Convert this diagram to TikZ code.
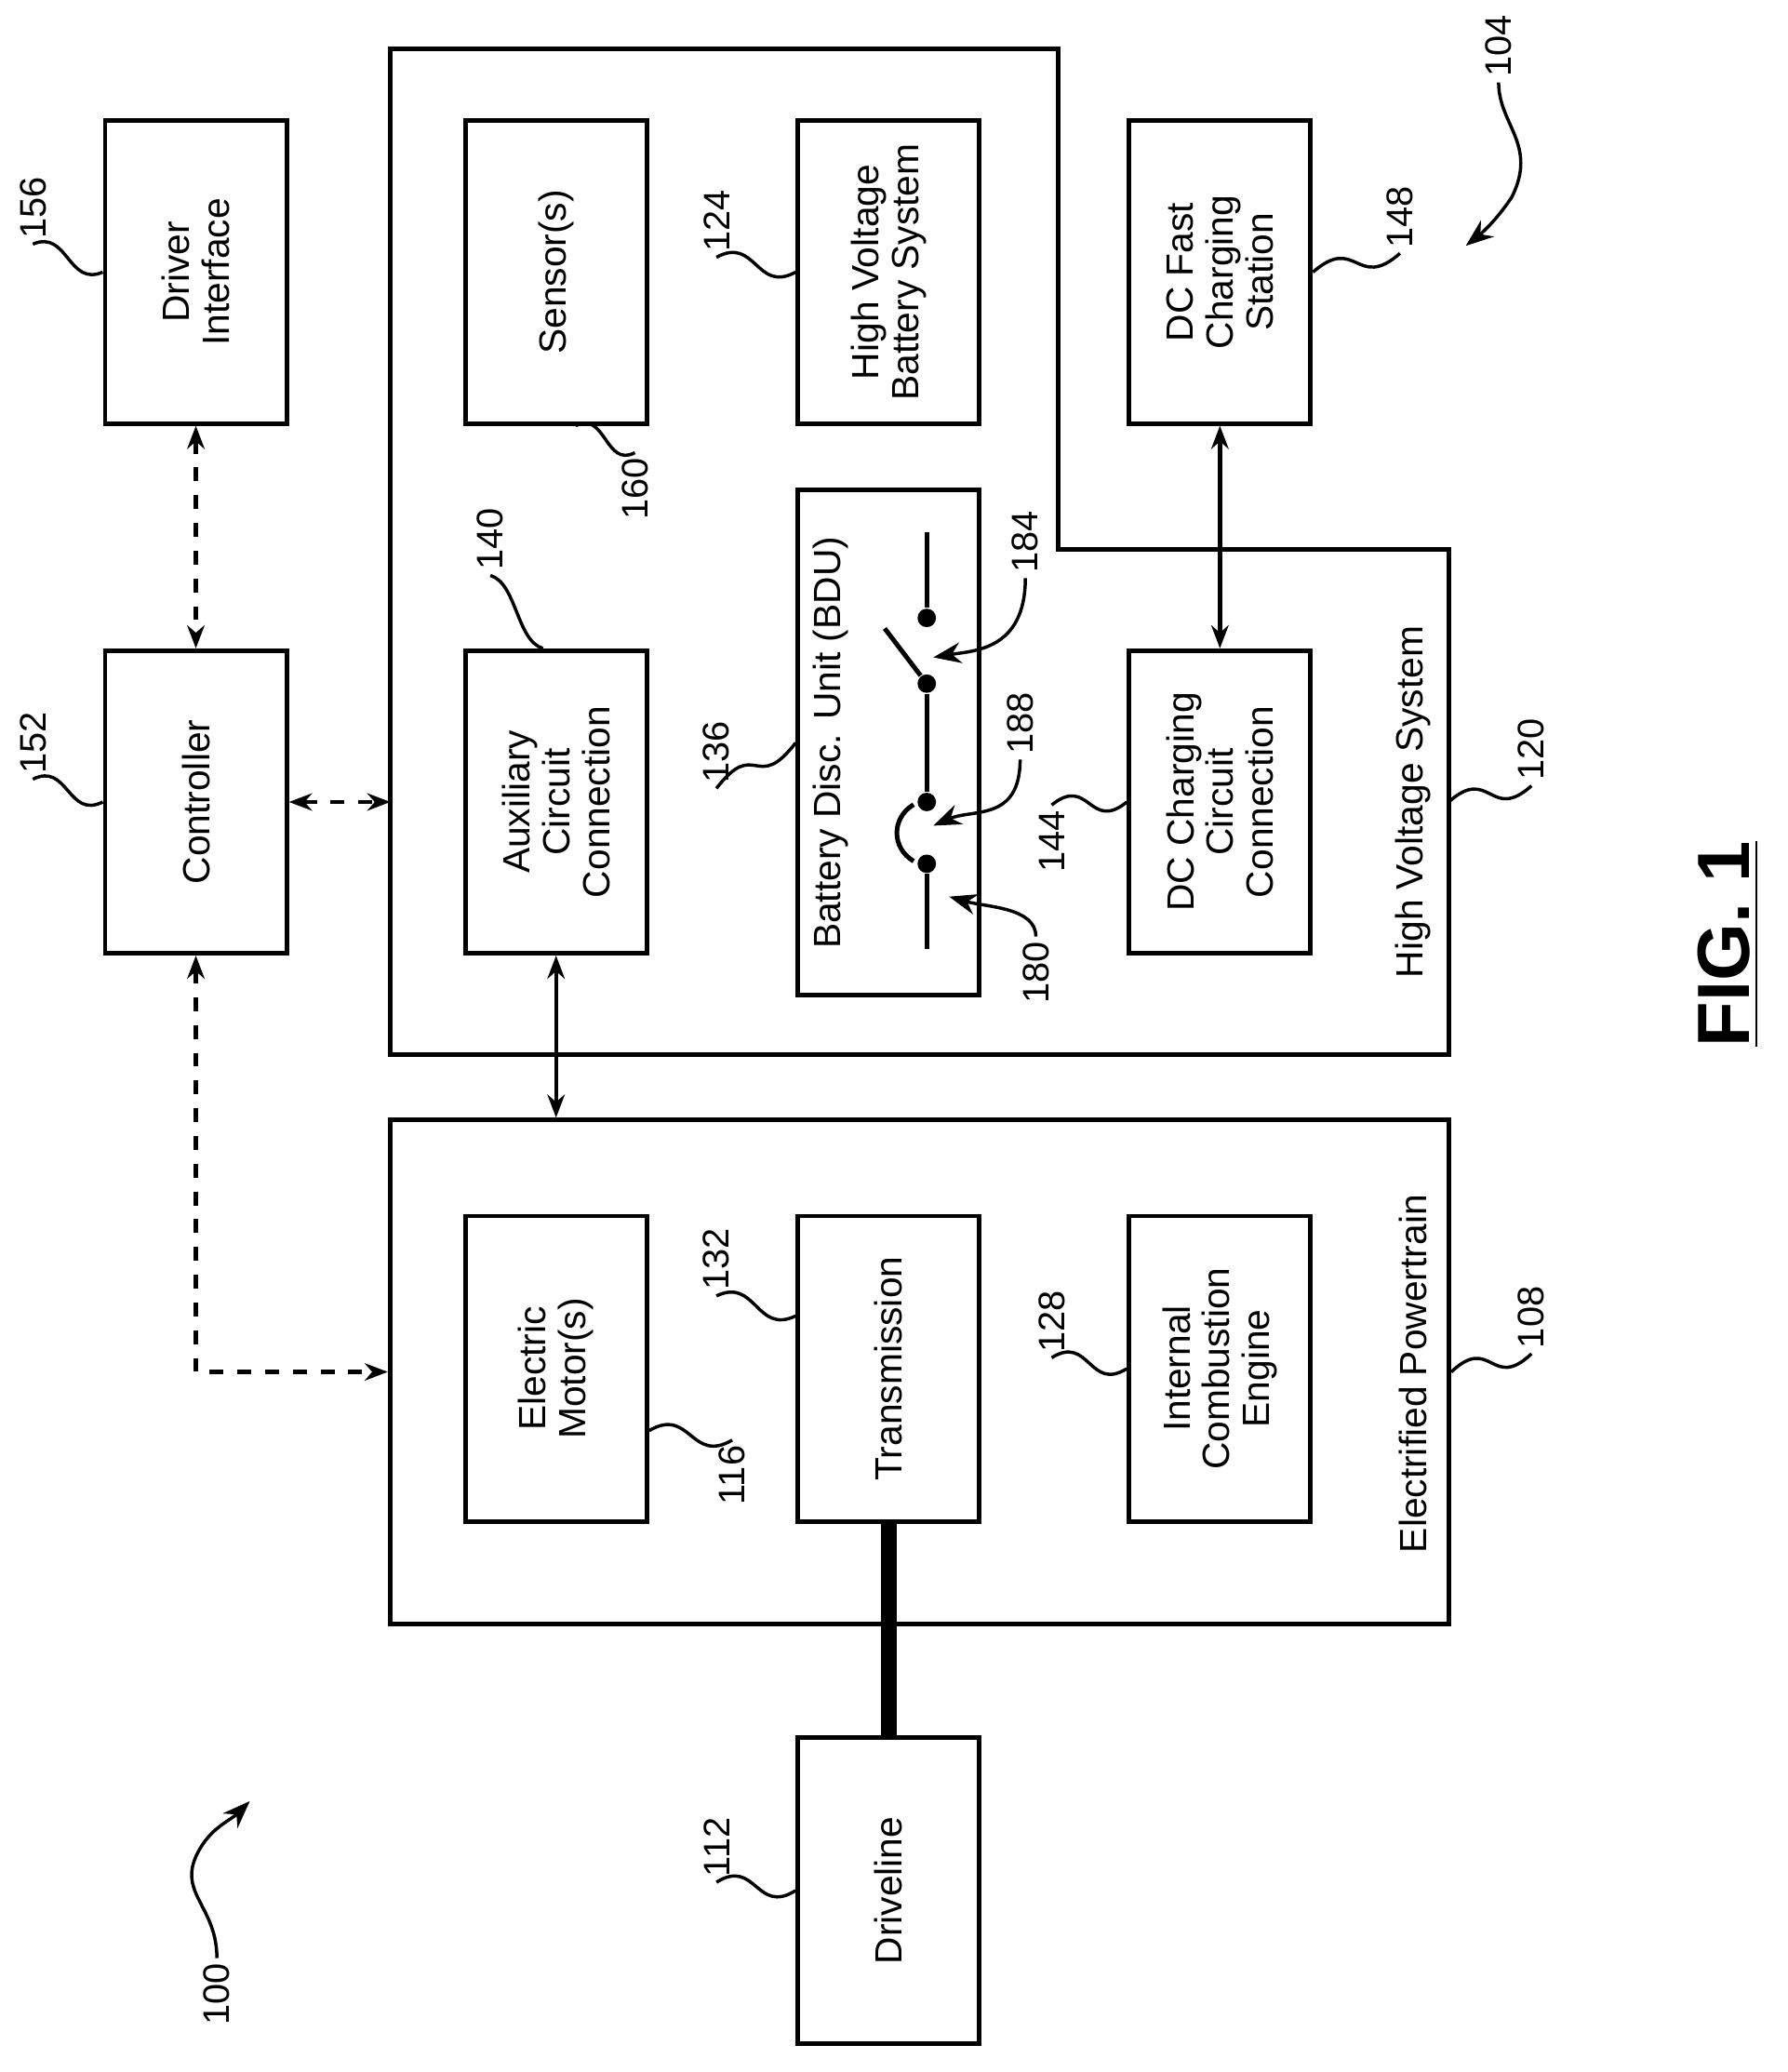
\documentclass[tikz,border=0pt]{standalone}
\usepackage{fontspec}
\setmainfont{Liberation Sans}
\usetikzlibrary{calc,arrows.meta}
\tikzset{
  box/.style={draw, line width=1pt, inner sep=0pt, minimum width=1.38cm, minimum height=2.3cm},
  txt/.style={rotate=90, align=center, font=\fontsize{8.2}{8.6}\selectfont},
  num/.style={rotate=90, inner sep=1pt, font=\fontsize{8}{8.5}\selectfont},
  dot/.style={circle, fill, inner sep=0pt, minimum size=4pt},
  link/.style={line width=0.9pt, {Stealth[length=5pt]}-{Stealth[length=5pt]}},
  ctrl/.style={link, dashed}
}
\newcommand{\lead}[2]{\draw[line width=0.7pt] (#1) .. controls ($(#1)!0.5!(#2)+(0,-22)$) and ($(#1)!0.5!(#2)+(0,22)$) .. (#2);}
\begin{document}
\begin{tikzpicture}[x=0.01cm, y=-0.01cm]
\useasboundingbox (0,0) rectangle (1360,1576);
% outer groups
\draw[line width=1pt] (297,37) coordinate (hvTL) -- (805,37) -- (805,418) -- (1102,418) -- (1102,802) -- (297,802) -- cycle;
\coordinate (hvL) at (297,610);
\coordinate (hvR) at (1102,610);
\coordinate (hvB) at (423,802);
\node[draw, line width=1pt, minimum width=8.05cm, minimum height=3.83cm] (ept) at (699.5,1043.5) {};
% boxes
\node[box] (drv) at (149,207) {};
\node[txt] at (drv) {Driver\\Interface};
\node[box] (ctl) at (149,610) {};
\node[txt] at (ctl) {Controller};
\node[box] (sen) at (423,207) {};
\node[txt] at (sen) {Sensor(s)};
\node[box] (hvb) at (676,207) {};
\node[txt] at (hvb) {High Voltage\\Battery System};
\node[box] (dcf) at (928,207) {};
\node[txt] at (dcf) {DC Fast\\Charging\\Station};
\node[box, minimum height=3.84cm] (bdu) at (676,565) {};
\node[txt] at (632,565) {Battery Disc. Unit (BDU)};
\node[box] (aux) at (423,610) {};
\node[txt] at (aux) {Auxiliary\\Circuit\\Connection};
\node[box] (dcc) at (928,610) {};
\node[txt] at (dcc) {DC Charging\\Circuit\\Connection};
\node[box, minimum height=2.32cm] (mot) at (423,1041) {};
\node[txt] at (mot) {Electric\\Motor(s)};
\node[box, minimum height=2.32cm] (trn) at (676,1041) {};
\node[txt] at (trn) {Transmission};
\node[box, minimum height=2.32cm] (ice) at (928,1041) {};
\node[txt] at (ice) {Internal\\Combustion\\Engine};
\node[box, minimum height=2.33cm] (drl) at (676,1438) {};
\node[txt] at (drl) {Driveline};
\node[txt] at (1075,610) {High Voltage System};
\node[txt] at (1075,1045) {Electrified Powertrain};
% switches
\node[dot] (s1) at (705,470) {};
\node[dot] (s2) at (705,520) {};
\node[dot] (s3) at (705,610) {};
\node[dot] (s4) at (705,657) {};
\coordinate (sTop) at (705,405);
\coordinate (sBot) at (705,722);
\draw[line width=1pt] (sTop) -- (s1);
\draw[line width=1pt] (s2) -- (673,478);
\draw[line width=1pt] (s2) -- (s3);
\draw[line width=1pt] (695,612) .. controls (678,622) and (678,645) .. (695,655);
\draw[line width=1pt] (s4) -- (sBot);
% connectors
\draw[ctrl] (drv.south) -- (ctl.north);
\draw[ctrl] (ctl.east) -- (hvL);
\draw[ctrl] (ctl.south) |- (ept.west);
\draw[link] (aux.south) -- (ept.north -| aux.south);
\draw[link] (dcf.south) -- (dcc.north);
\draw[line width=3.5pt] (trn.south) -- (drl.north);
% reference numerals
\node[num] (n156) at (25,158) {156};  \lead{n156.west}{drv.west}
\node[num] (n152) at (25,565) {152};  \lead{n152.west}{ctl.west}
\node[num] (n124) at (545,168) {124}; \lead{n124.west}{hvb.west}
\node[num] (n136) at (545,572) {136}; \lead{n136.west}{bdu.west}
\node[num] (n132) at (545,958) {132}; \lead{n132.west}{$(trn.north west)!0.33!(trn.south west)$}
\node[num] (n112) at (545,1405) {112}; \lead{n112.west}{drl.west}
\node[num] (n128) at (800,1005) {128}; \lead{n128.west}{ice.west}
\node[num] (n144) at (800,640) {144}; \lead{n144.east}{dcc.west}
\node[num] (n148) at (1065,165) {148}; \lead{dcf.east}{n148.west}
\node[num] (n120) at (1165,570) {120}; \lead{hvR}{n120.west}
\node[num] (n108) at (1165,1002) {108}; \lead{ept.east}{n108.west}
\node[num] (n116) at (557,1122) {116}; \lead{$(mot.north east)!0.7!(mot.south east)$}{n116.east}
\node[num] (n160) at (483,372) {160}; \lead{$(sen.south)+(15,0)$}{n160.east}
\node[num] (n140) at (373,410) {140}; \lead{n140.west}{$(aux.north)+(-10,0)$}
\node[num] (n184) at (780,412) {184};
\node[num] (n188) at (776,550) {188};
\node[num] (n180) at (788,740) {180};
\draw[line width=0.7pt, -{Stealth[length=6pt]}] (n184.west) .. controls (780,495) and (740,495) .. (710,500);
\draw[line width=0.7pt, -{Stealth[length=6pt]}] (n188.west) .. controls (776,625) and (740,615) .. (710,628);
\draw[line width=0.7pt, -{Stealth[length=6pt]}] (n180.east) .. controls (788,690) and (750,690) .. (722,682);
\node[num] (n100) at (165,1517) {100};
\draw[line width=0.7pt, -{Stealth[length=6pt]}] (n100.east) .. controls (165,1450) and (135,1440) .. (150,1410) .. controls (160,1390) and (175,1385) .. (190,1370);
\node[num] (n104) at (1140,35) {104};
\draw[line width=0.7pt, -{Stealth[length=6pt]}] (n104.west) .. controls (1140,95) and (1170,110) .. (1150,150) .. controls (1140,165) and (1130,175) .. (1115,187);
\node[rotate=90, font=\fontsize{16}{17}\selectfont\bfseries] (fig) at (1315,718) {\underline{FIG. 1}};
\end{tikzpicture}
\end{document}
